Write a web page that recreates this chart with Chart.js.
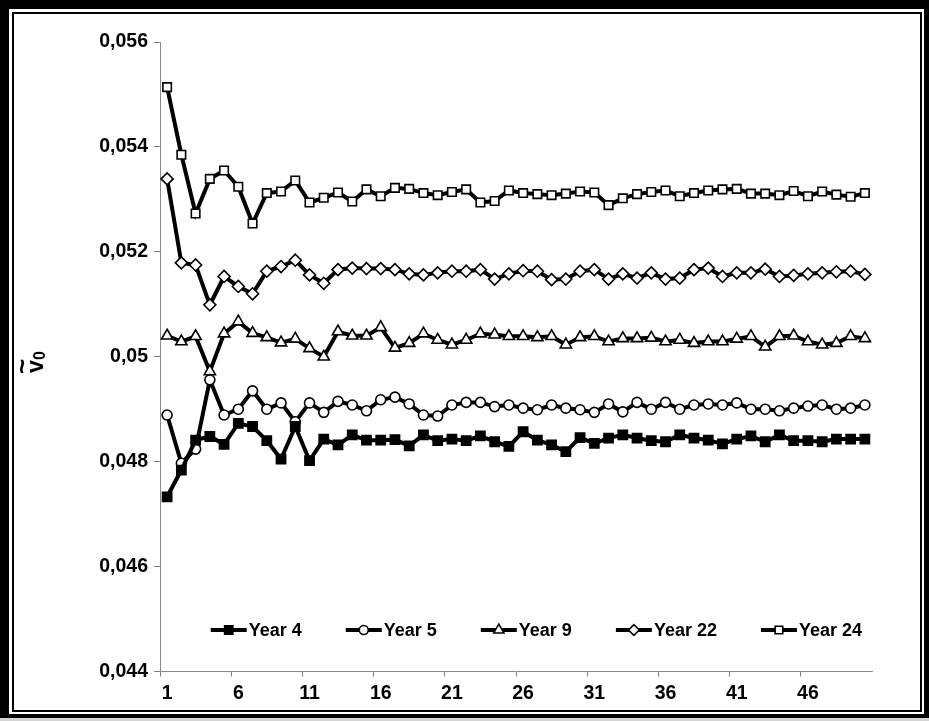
<!DOCTYPE html>
<html>
<head>
<meta charset="utf-8">
<script src="https://cdn.jsdelivr.net/npm/chart.js@4.4.1/dist/chart.umd.min.js"></script>
<style>
  html, body { margin: 0; padding: 0; background: #fff; }
  #wrap { width: 929px; height: 721px; position: relative; }
  canvas { display: block; }
</style>
</head>
<body>
<div id="wrap"><canvas id="chart" width="929" height="721"></canvas></div>
<script>
// Iteration number on the horizontal axis
const iterations = Array.from({ length: 50 }, (_, i) => String(i + 1));

// Vertical tick labels (decimal comma)
const yTickLabels = ['0,044', '0,046', '0,048', '0,05', '0,052', '0,054', '0,056'];

const year4 = [0.04733, 0.04784, 0.04841, 0.04848, 0.04833, 0.04873, 0.04867, 0.0484, 0.04805, 0.04867,
  0.04802, 0.04843, 0.04832, 0.04851, 0.04841, 0.04841, 0.04842, 0.0483, 0.04851, 0.0484,
  0.04843, 0.0484, 0.04849, 0.04838, 0.04829, 0.04857, 0.04841, 0.04832, 0.04819, 0.04846,
  0.04835, 0.04845, 0.04851, 0.04845, 0.0484, 0.04838, 0.04851, 0.04845, 0.04841, 0.04834,
  0.04843, 0.04849, 0.04838, 0.04851, 0.0484, 0.0484, 0.04838, 0.04843, 0.04843, 0.04843];

const year5 = [0.04889, 0.04797, 0.04824, 0.04956, 0.04889, 0.049, 0.04935, 0.049, 0.04912, 0.04876,
  0.04912, 0.04894, 0.04915, 0.04908, 0.04897, 0.04918, 0.04923, 0.0491, 0.04889, 0.04887,
  0.04908, 0.04913, 0.04913, 0.04905, 0.04908, 0.04902, 0.04899, 0.04908, 0.04902, 0.04899,
  0.04894, 0.0491, 0.04895, 0.04913, 0.049, 0.04913, 0.049, 0.04908, 0.0491, 0.04908,
  0.04912, 0.049, 0.049, 0.04897, 0.04902, 0.04906, 0.04908, 0.049, 0.04902, 0.04908];

const year9 = [0.0504, 0.05029, 0.05039, 0.04972, 0.05044, 0.05067, 0.05045, 0.05037, 0.05027, 0.05034,
  0.05016, 0.05, 0.05048, 0.0504, 0.0504, 0.05056, 0.05017, 0.05026, 0.05044, 0.05032,
  0.05023, 0.05032, 0.05044, 0.05042, 0.05039, 0.05039, 0.05037, 0.05039, 0.05023, 0.05037,
  0.05039, 0.05029, 0.05035, 0.05035, 0.05036, 0.05029, 0.05032, 0.05026, 0.05029, 0.05029,
  0.05034, 0.05039, 0.05019, 0.05039, 0.0504, 0.05029, 0.05023, 0.05026, 0.05039, 0.05035];

const year22 = [0.05339, 0.05179, 0.05175, 0.05099, 0.05153, 0.05134, 0.0512, 0.05163, 0.05172, 0.05184,
  0.05156, 0.0514, 0.05166, 0.05169, 0.05168, 0.05168, 0.05166, 0.05158, 0.05156, 0.0516,
  0.05163, 0.05163, 0.05166, 0.05148, 0.05158, 0.05164, 0.05163, 0.05147, 0.05148, 0.05163,
  0.05166, 0.05148, 0.05158, 0.0515, 0.0516, 0.05148, 0.0515, 0.05166, 0.05169, 0.05153,
  0.0516, 0.0516, 0.05167, 0.05153, 0.05155, 0.05158, 0.0516, 0.05162, 0.05163, 0.05157];

const year24 = [0.05514, 0.05385, 0.05273, 0.05339, 0.05355, 0.05324, 0.05254, 0.05312, 0.05315, 0.05336,
  0.05294, 0.05303, 0.05313, 0.05296, 0.05319, 0.05306, 0.05322, 0.0532, 0.05312, 0.05308,
  0.05314, 0.05319, 0.05294, 0.05297, 0.05317, 0.05312, 0.0531, 0.05308, 0.05311, 0.05315,
  0.05313, 0.05289, 0.05302, 0.0531, 0.05314, 0.05317, 0.05306, 0.05312, 0.05317, 0.05319,
  0.0532, 0.05311, 0.05311, 0.05308, 0.05316, 0.05306, 0.05315, 0.05309, 0.05305, 0.05312];

const FONT = 'Liberation Sans, Arial, Helvetica, sans-serif';

function series(label, data, style, radius, fill) {
  return {
    label, data,
    borderColor: '#000', borderWidth: 4,
    pointStyle: style, pointRadius: radius, pointHoverRadius: radius,
    pointBackgroundColor: fill, pointBorderColor: '#000', pointBorderWidth: 1.6,
    tension: 0, fill: false
  };
}

// Double frame around the whole figure
const frame = {
  id: 'frame',
  beforeDraw(chart) {
    const c = chart.ctx;
    c.save();
    c.fillStyle = '#000';
    c.fillRect(0, 0, 929, 721);
    c.fillStyle = '#fff';
    c.fillRect(9, 9, 915, 705);
    c.fillStyle = '#d4d4d4';
    c.fillRect(0, 718, 929, 3);
    c.strokeStyle = '#000';
    c.lineWidth = 2;
    c.strokeRect(13, 13, 908, 698);
    c.restore();
  }
};

// Rotated axis title: v with tilde and subscript 0
const axisTitle = {
  id: 'axisTitle',
  afterDraw(chart) {
    const c = chart.ctx;
    c.save();
    c.translate(43, 373);
    c.rotate(-Math.PI / 2);
    c.fillStyle = '#000';
    c.textBaseline = 'alphabetic';
    c.font = 'bold 23px ' + FONT;
    c.fillText('v', 0, 0);
    c.font = 'bold 16px ' + FONT;
    c.fillText('0', 13, 2);
    c.font = 'bold 26px ' + FONT;
    c.fillText('~', -1, -12);
    c.restore();
  }
};

// Legend row drawn inside the plot, above the horizontal axis
const legendRow = {
  id: 'legendRow',
  afterDatasetsDraw(chart) {
    const c = chart.ctx;
    const area = chart.chartArea;
    const sets = chart.data.datasets;
    const seg = 36, gapText = 2, gapItem = 44;
    c.save();
    c.font = 'bold 18px ' + FONT;
    const widths = sets.map(ds => seg + gapText + c.measureText(ds.label).width);
    const total = widths.reduce((a, b) => a + b, 0) + gapItem * (sets.length - 1);
    let x = area.right - 10 - total;
    const y = area.bottom - 41.5;
    sets.forEach((ds, i) => {
      c.strokeStyle = '#000';
      c.lineWidth = ds.borderWidth;
      c.beginPath();
      c.moveTo(x, y);
      c.lineTo(x + seg, y);
      c.stroke();
      c.fillStyle = ds.pointBackgroundColor;
      c.strokeStyle = '#000';
      c.lineWidth = ds.pointBorderWidth;
      Chart.helpers.drawPoint(c, {
        pointStyle: ds.pointStyle, rotation: 0,
        radius: ds.pointRadius * 0.9, borderWidth: ds.pointBorderWidth
      }, x + seg / 2, y);
      c.fillStyle = '#000';
      c.textBaseline = 'middle';
      c.textAlign = 'left';
      c.fillText(ds.label, x + seg + gapText, y + 1);
      x += widths[i] + gapItem;
    });
    c.restore();
  }
};

const tickFont = { family: FONT, size: 19.5, weight: 'bold' };

new Chart(document.getElementById('chart'), {
  type: 'line',
  data: {
    labels: iterations,
    datasets: [
      series('Year 4', year4, 'rect', 6.5, '#000'),
      series('Year 5', year5, 'circle', 5, '#fff'),
      series('Year 9', year9, 'triangle', 6.5, '#fff'),
      series('Year 22', year22, 'rectRot', 6, '#fff'),
      series('Year 24', year24, 'rect', 6, '#fff')
    ]
  },
  options: {
    responsive: false,
    animation: false,
    events: [],
    layout: { padding: { left: 0, top: 42, right: 57, bottom: 0 } },
    plugins: { legend: { display: false }, tooltip: { enabled: false } },
    scales: {
      x: {
        type: 'category',
        offset: true,
        grid: {
          offset: true, drawOnChartArea: false, drawTicks: true, tickLength: 5,
          color: ctx => (ctx.index % 5 === 0 ? '#808080' : 'rgba(0,0,0,0)'),
          lineWidth: 1
        },
        border: { color: '#8a8a8a', width: 1 },
        ticks: {
          autoSkip: false, maxRotation: 0, minRotation: 0, padding: 5,
          color: '#000', font: tickFont,
          callback: (v, i) => (i % 5 === 0 ? iterations[i] : '')
        },
        afterFit: s => { s.height = 49.5; }
      },
      y: {
        min: 0.044, max: 0.056,
        grid: { drawOnChartArea: false, drawTicks: true, tickLength: 6, color: '#808080' },
        border: { color: '#8a8a8a', width: 1 },
        ticks: {
          stepSize: 0.002, padding: 6, color: '#000', font: tickFont,
          callback: v => yTickLabels[Math.round((v - 0.044) / 0.002)]
        },
        afterFit: s => { s.width = 160; }
      }
    }
  },
  plugins: [frame, axisTitle, legendRow]
});
</script>
</body>
</html>
